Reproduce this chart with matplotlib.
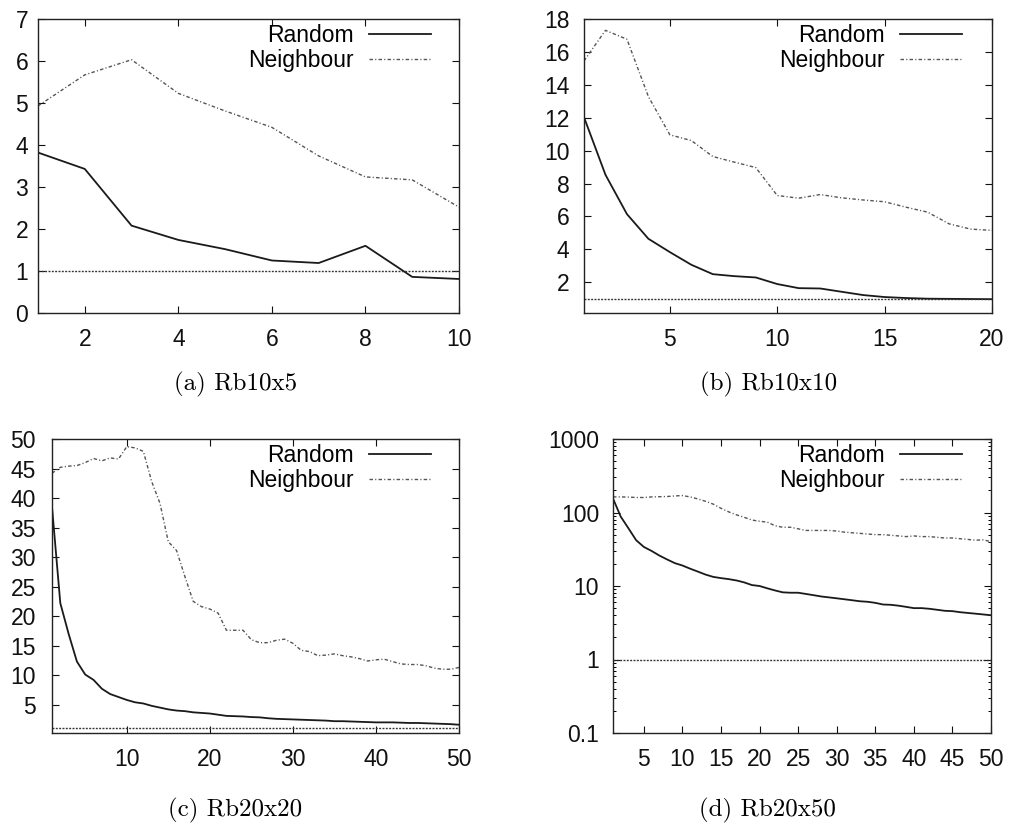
import matplotlib
matplotlib.use("Agg")
import matplotlib.pyplot as plt
import numpy as np

plt.rcParams['font.family'] = ['Liberation Sans', 'DejaVu Sans']

# ---------------- data ----------------
x_a = list(range(1, 11))
random_a = [3.82, 3.43, 2.08, 1.74, 1.52, 1.25, 1.19, 1.60, 0.86, 0.81]
neigh_a = [4.93, 5.67, 6.03, 5.23, 4.81, 4.42, 3.74, 3.24, 3.17, 2.52]

x_b = list(range(1, 21))
random_b = [12.03, 8.53, 6.14, 4.64, 3.83, 3.06, 2.49, 2.37, 2.29, 1.89,
            1.64, 1.62, 1.42, 1.22, 1.10, 1.04, 1.00, 0.99, 0.98, 0.97]
neigh_b = [15.45, 17.31, 16.77, 13.28, 10.96, 10.61, 9.64, 9.30, 8.97, 7.27,
           7.11, 7.33, 7.13, 7.00, 6.89, 6.56, 6.26, 5.55, 5.23, 5.15]

x_c = list(range(1, 51))
random_c = [38.5, 22.2, 17.0, 12.3, 10.1, 9.2, 7.7, 6.8, 6.3, 5.8,
            5.4, 5.2, 4.8, 4.5, 4.2, 4.0, 3.9, 3.7, 3.6, 3.5,
            3.3, 3.1, 3.05, 3.0, 2.9, 2.85, 2.7, 2.6, 2.55, 2.5,
            2.45, 2.4, 2.35, 2.3, 2.2, 2.2, 2.15, 2.1, 2.05, 2.0,
            2.0, 2.0, 1.95, 1.9, 1.9, 1.85, 1.8, 1.75, 1.7, 1.6]
neigh_c = [44.2, 45.2, 45.4, 45.5, 46.0, 46.7, 46.3, 46.8, 46.6, 48.7,
           48.5, 47.9, 42.8, 39.1, 32.6, 31.1, 26.7, 22.5, 21.6, 21.2,
           20.5, 17.6, 17.6, 17.6, 16.0, 15.5, 15.5, 15.9, 16.1, 15.4,
           14.2, 14.0, 13.3, 13.4, 13.6, 13.3, 13.1, 12.8, 12.4, 12.6,
           12.7, 12.3, 11.9, 11.8, 11.8, 11.6, 11.2, 11.0, 11.0, 11.3]

x_d = list(range(1, 51))
random_d = [155, 88, 61, 42, 34, 30, 26, 23, 20.5, 19,
            17.2, 15.7, 14.3, 13.3, 12.8, 12.4, 11.9, 11.2, 10.3, 10.0,
            9.3, 8.7, 8.2, 8.1, 8.1, 7.8, 7.5, 7.2, 7.0, 6.8,
            6.6, 6.4, 6.2, 6.1, 5.9, 5.6, 5.55, 5.4, 5.2, 5.0,
            5.0, 4.9, 4.75, 4.6, 4.55, 4.4, 4.3, 4.2, 4.1, 4.0]
neigh_d = [163, 163, 162, 160, 160, 163, 164, 165, 168, 170,
           163, 153, 142, 130, 114, 102, 93, 86, 79, 76,
           74, 66, 63, 63, 60, 57, 57, 57, 57, 56,
           54, 53, 52, 51, 50, 50, 49, 48, 47, 48,
           47, 47, 46, 45, 45, 44, 43, 42, 42.5, 40]

baseline = 1.0
captions = ['(a) Rb10x5', '(b) Rb10x10', '(c) Rb20x20', '(d) Rb20x50']

# ---------------- figure ----------------
W, H = 1010, 825
fig = plt.figure(figsize=(W / 100, H / 100), dpi=100)

def px_axes(l, r, t, b):
    return fig.add_axes([l / W, 1 - b / H, (r - l) / W, (b - t) / H])

ax_a = px_axes(38, 459, 19, 313)
ax_b = px_axes(584, 992, 19, 313)
ax_c = px_axes(52, 459, 439, 733)
ax_d = px_axes(613, 991, 439, 733)

specs = [
    (ax_a, x_a, random_a, neigh_a, (1, 10), (0, 7), np.arange(2, 11, 2), np.arange(0, 8, 1), False, 7, 28),
    (ax_b, x_b, random_b, neigh_b, (1, 20), (0.13, 18), np.arange(5, 21, 5), np.arange(2, 19, 2), False, 10.5, 30),
    (ax_c, x_c, random_c, neigh_c, (1, 50), (0.2, 50), np.arange(10, 51, 10), np.arange(5, 51, 5), False, 11.5, 28),
    (ax_d, x_d, random_d, neigh_d, (1, 50), (0.1, 1000), np.arange(5, 51, 5), None, True, 10, 29),
]

for ax, xs, rnd, nb, xl, yl, xt, yt, logy, ypad, roff in specs:
    ax.plot(xs, rnd, color='#1a1a1a', lw=1.3, ls='-', label='Random')
    ax.plot(xs, nb, color='#555555', lw=1.0, ls=(0, (2.5, 1.6, 0.8, 1.6)), label='Neighbour')
    ax.axhline(baseline, color='#333333', lw=1.0, ls=(0, (1.4, 1.0)))
    if logy:
        ax.set_yscale('log')
        ax.set_yticks([0.1, 1, 10, 100, 1000])
        ax.set_yticklabels(['0.1', '1', '10', '100', '1000'])
    else:
        ax.set_yticks(yt)
    ax.set_xlim(*xl)
    ax.set_ylim(*yl)
    ax.set_xticks(xt)
    ax.tick_params(axis='both', which='major', direction='in', top=True, right=True,
                   length=5, width=0.8, labelsize=16.5, colors='#111111')
    ax.tick_params(axis='both', which='minor', direction='in', top=True, right=True,
                   length=2.5, width=0.7)
    ax.tick_params(axis='x', pad=11)
    ax.tick_params(axis='y', pad=ypad)
    for sp in ax.spines.values():
        sp.set_linewidth(1.0)
        sp.set_color('#222222')
    bbox = ax.get_position()
    wpx = bbox.width * W
    hpx = bbox.height * H
    ax.legend(loc='upper right', bbox_to_anchor=(1 - roff / wpx, 1 - 5 / hpx),
              frameon=False, markerfirst=False, fontsize=16.5, handlelength=2.7,
              handletextpad=0.65, labelspacing=0.08, borderpad=0, borderaxespad=0)

cap_pos = [(236, 384), (769, 384), (235, 810), (767, 810)]
for (cx, cy), txt in zip(cap_pos, captions):
    fig.text(cx / W, 1 - cy / H, txt, ha='center', va='center', fontsize=18,
             family=['cmr10', 'DejaVu Serif'])

fig.savefig('out.png', dpi=100)
